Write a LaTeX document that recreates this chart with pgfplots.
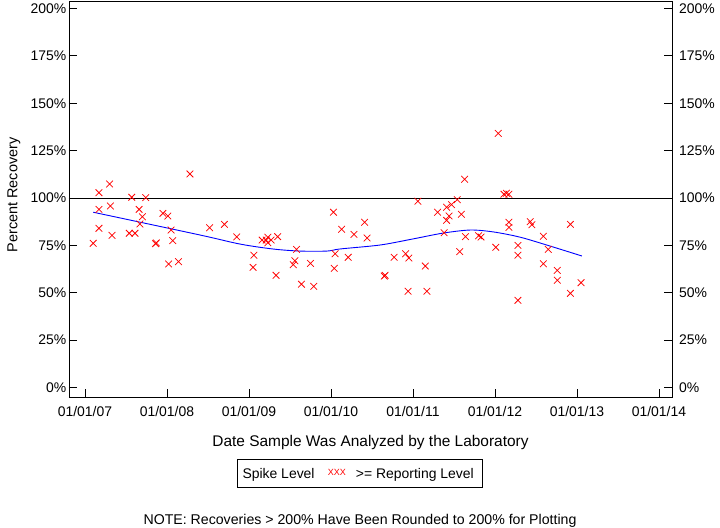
\documentclass[border=0pt]{standalone}
\usepackage{pgfplots}
\pgfplotsset{compat=1.18}
\usepackage{fontspec}
\setmainfont{Liberation Sans}

\pgfplotsset{
  recbox/.style={
    scale only axis, width=603bp, height=396bp,
    at={(0,0)}, anchor=south west,
    xmin=2006.805, xmax=2014.159,
    ymin=-5.01, ymax=203.96,
    tick align=inside,
    major tick length=8bp, minor tick length=5bp,
    tick label style={font=\fontsize{14}{16}\selectfont},
    ytick={0,25,...,200},
    yticklabels={0\%,25\%,50\%,75\%,100\%,125\%,150\%,175\%,200\%},
  }
}

\begin{document}
\begin{tikzpicture}
\useasboundingbox (-69bp,-131bp) rectangle (651bp,397bp);

\begin{axis}[recbox,
  axis line style={line width=0.8bp},
  every tick/.style={black, line width=0.8bp},
  xtick={2007,2008,...,2014},
  xticklabels={01/01/07,01/01/08,01/01/09,01/01/10,01/01/11,01/01/12,01/01/13,01/01/14},
  minor x tick num=1,
  xtick pos=left,
  ytick pos=both,
  yticklabel pos=left,
  xticklabel style={anchor=north, inner sep=0pt, yshift=-9bp},
  yticklabel style={anchor=east, inner sep=0pt, xshift=-2.5bp},
  clip=false,
]
% 100% reference line
\addplot[black, line width=0.8bp] coordinates {(2006.805,100) (2014.159,100)};

% recoveries, spike level >= reporting level
\addplot[only marks, mark=x, mark size=4.7bp, red, mark options={line width=0.75bp}] coordinates {
(2007.10,76.1) (2007.17,102.8) (2007.30,107.4) (2007.17,94.0) (2007.31,95.8)
(2007.17,84.0) (2007.33,80.3) (2007.57,100.4) (2007.74,100.2) (2007.66,94.0)
(2007.70,90.1) (2007.67,86.3) (2007.54,81.4) (2007.61,81.4) (2007.86,75.9)
(2007.87,76.3) (2007.95,91.9) (2008.01,90.5) (2008.05,83.1) (2008.07,77.5)
(2008.02,65.2) (2008.14,66.4) (2008.28,112.7) (2008.52,84.3) (2008.70,86.1)
(2008.85,79.5) (2009.06,69.8) (2009.05,63.4) (2009.16,77.8) (2009.21,77.8)
(2009.23,79.3) (2009.23,76.4) (2009.27,77.8) (2009.35,79.6) (2009.33,59.2)
(2009.58,72.9) (2009.56,66.9) (2009.54,64.8) (2009.75,65.5) (2009.64,54.5)
(2009.79,53.4) (2010.03,92.5) (2010.13,83.5) (2010.28,80.8) (2010.41,87.2)
(2010.44,78.9) (2010.05,70.6) (2010.21,68.7) (2010.04,62.9) (2010.65,58.8)
(2010.66,59.2) (2010.77,68.7) (2010.91,70.6) (2010.95,68.3) (2010.94,50.8)
(2011.06,98.3) (2011.15,64.1) (2011.17,50.8) (2011.30,92.5) (2011.41,95.1)
(2011.47,96.5) (2011.54,99.1) (2011.44,90.5) (2011.41,88.2) (2011.59,91.4)
(2011.63,109.9) (2011.38,81.7) (2011.64,79.6) (2011.57,71.7) (2011.80,80.1)
(2011.83,79.4) (2012.01,74.0) (2012.04,134.1) (2012.11,102.0) (2012.14,102.5)
(2012.17,102.0) (2012.17,87.2) (2012.17,84.5) (2012.28,75.0) (2012.28,69.8)
(2012.28,46.0) (2012.43,87.5) (2012.45,85.9) (2012.59,79.8) (2012.65,72.9)
(2012.59,65.3) (2012.76,61.8) (2012.76,56.6) (2012.92,86.1) (2012.92,49.7)
(2013.05,55.3)
};

% smoothed trend
\addplot[blue, line width=0.9bp, smooth, no marks] coordinates {
(2007.10,92.5) (2008.40,80.5) (2008.89,75.7) (2009.29,73.1) (2009.62,72.0)
(2009.95,72.0) (2010.11,73.1) (2010.60,75.2) (2011.00,78.4) (2011.37,81.5)
(2011.70,83.1) (2011.98,82.1) (2012.30,79.4) (2012.63,75.2) (2013.06,69.4)
};
\end{axis}

% right-hand labels
\begin{axis}[recbox,
  axis line style={draw=none},
  major tick style={draw=none},
  xtick=\empty,
  ytick pos=right,
  yticklabel pos=right,
  yticklabel style={anchor=west, inner sep=0pt, xshift=7bp},
]
\end{axis}

\node[rotate=90, font=\fontsize{14.5}{16}\selectfont] at (-55bp,202bp) {Percent Recovery};
\node[anchor=base, font=\fontsize{15.5}{18}\selectfont] at (301.5bp,-49bp) {Date Sample Was Analyzed by the Laboratory};

\draw[line width=0.8bp] (168.3bp,-62bp) rectangle (413.7bp,-90bp);
\node[anchor=base west, inner sep=0pt, font=\fontsize{14}{16}\selectfont] at (173.3bp,-81.7bp) {Spike Level};
\node[anchor=base west, inner sep=0pt, red, font=\fontsize{9}{10}\selectfont] at (258.7bp,-78bp) {XXX};
\node[anchor=base west, inner sep=0pt, font=\fontsize{14}{16}\selectfont] at (286.7bp,-81.7bp) {>= Reporting Level};

\node[anchor=base, font=\fontsize{14.2}{16}\selectfont] at (291bp,-127bp) {NOTE: Recoveries > 200\% Have Been Rounded to 200\% for Plotting};
\end{tikzpicture}
\end{document}
